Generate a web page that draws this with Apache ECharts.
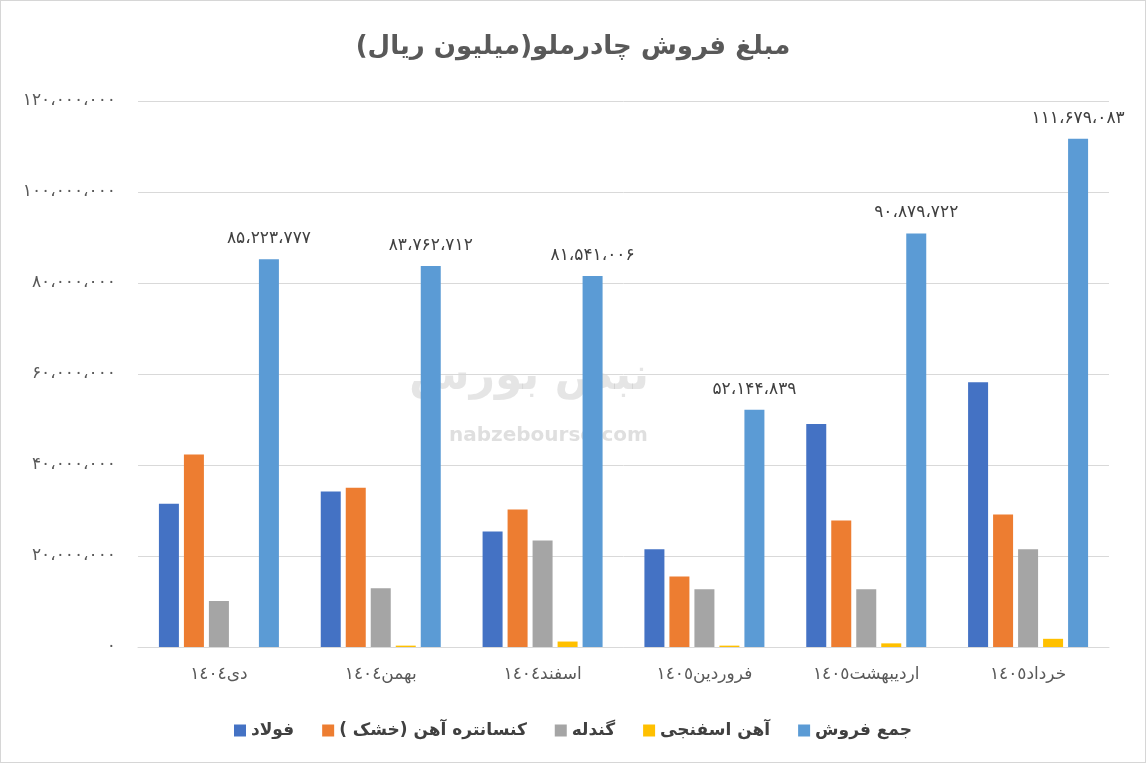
<!DOCTYPE html>
<html>
<head>
<meta charset="utf-8">
<script src="https://cdn.jsdelivr.net/npm/echarts@6/dist/echarts.min.js"></script>
<style>
  html, body { margin: 0; padding: 0; background: #fff; }
  #chart { width: 1146px; height: 763px; box-sizing: border-box; border: 1px solid #d6d6d6; }
</style>
</head>
<body>
<div id="chart" dir="rtl"></div>
<script>
// months (solar hijri)
var months = ['دی١٤٠٤', 'بهمن١٤٠٤', 'اسفند١٤٠٤', 'فروردین١٤٠٥', 'اردیبهشت١٤٠٥', 'خرداد١٤٠٥'];
var seriesNames = ['فولاد', 'کنسانتره آهن (خشک )', 'گندله', 'آهن اسفنجی', 'جمع فروش'];

// values in million rial
var fulad = [31500000, 34200000, 25400000, 21500000, 49000000, 58200000];
var konsantre = [42300000, 35000000, 30200000, 15500000, 27800000, 29100000];
var gandale = [10100000, 12900000, 23400000, 12700000, 12700000, 21500000];
var esfanji = [0, 300000, 1200000, 300000, 800000, 1800000];
var jamForoush = [85223777, 83762712, 81541006, 52144839, 90879722, 111679083];

var colors = ['#4472C4', '#ED7D31', '#A5A5A5', '#FFC000', '#5B9BD5'];

var faDigits = '۰۱۲۳۴۵۶۷۸۹';
function toFa(n) {
  var s = Math.round(n).toString().replace(/\B(?=(\d{3})+(?!\d))/g, '،');
  return s.replace(/\d/g, function (d) { return faDigits[+d]; });
}

var chart = echarts.init(document.getElementById('chart'));
var font = 'DejaVu Sans';

var allData = [fulad, konsantre, gandale, esfanji, jamForoush];
var series = allData.map(function (arr, i) {
  var s = {
    name: seriesNames[i],
    type: 'bar',
    data: arr,
    barWidth: 20,
    barGap: '25%',
    itemStyle: { color: colors[i] }
  };
  if (i === 4) {
    s.label = {
      show: true,
      position: 'top',
      distance: 12,
      color: '#404040',
      fontFamily: font,
      fontSize: 17,
      formatter: function (p) { return toFa(p.value); }
    };
  }
  return s;
});

chart.setOption({
  animation: false,
  textStyle: { fontFamily: font },
  title: {
    text: 'مبلغ فروش چادرملو(میلیون ریال)',
    left: 'center',
    top: 28,
    textStyle: { fontFamily: font, fontSize: 26, fontWeight: 'bold', color: '#595959' }
  },
  graphic: [
    {
      type: 'text', left: 408, top: 355, silent: true,
      style: { text: 'نبض بورس', fontFamily: font, fontSize: 44, fontWeight: 'bold', fill: 'rgba(150,150,150,0.25)' }
    },
    {
      type: 'text', left: 448, top: 425, silent: true,
      style: { text: 'nabzebourse.com', fontFamily: font, fontSize: 20, fontWeight: 'bold', fill: 'rgba(150,150,150,0.3)' }
    }
  ],
  legend: {
    bottom: 18,
    left: 'center',
    itemWidth: 12,
    itemHeight: 12,
    itemGap: 28,
    icon: 'rect',
    textStyle: { fontFamily: font, fontSize: 17, fontWeight: 'bold', color: '#404040' },
    data: seriesNames
  },
  grid: { left: 137, right: 36, top: 100, bottom: 115 },
  xAxis: {
    type: 'category',
    data: months,
    axisLine: { lineStyle: { color: '#d9d9d9', width: 1 } },
    axisTick: { show: false },
    axisLabel: { fontFamily: font, fontSize: 17, color: '#595959', margin: 19 }
  },
  yAxis: {
    type: 'value',
    min: 0,
    max: 120000000,
    interval: 20000000,
    axisLine: { show: false },
    axisTick: { show: false },
    splitLine: { lineStyle: { color: '#d9d9d9' } },
    axisLabel: {
      fontFamily: font, fontSize: 17, color: '#595959', margin: 22,
      formatter: function (v) { return toFa(v); }
    }
  },
  series: series
});
</script>
</body>
</html>
